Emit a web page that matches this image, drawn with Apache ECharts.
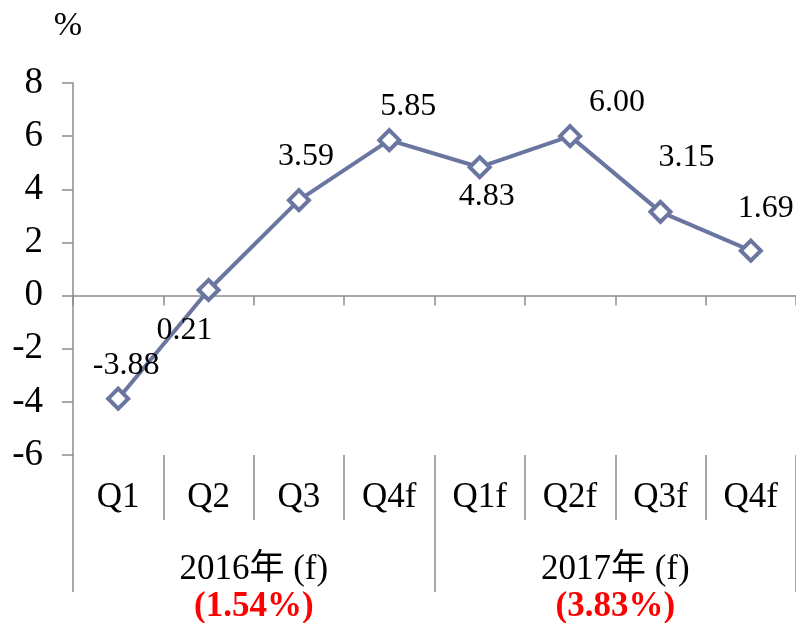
<!DOCTYPE html>
<html>
<head>
<meta charset="utf-8">
<script src="https://cdn.jsdelivr.net/npm/echarts@6/dist/echarts.min.js"></script>
<style>
  html, body { margin: 0; padding: 0; background: #fff; }
  #chart { width: 796px; height: 623px; }
</style>
</head>
<body>
<div id="chart"></div>
<script>
// Quarterly growth, 2016 (f) and 2017 (f)
const quarters = ['Q1', 'Q2', 'Q3', 'Q4f', 'Q1f', 'Q2f', 'Q3f', 'Q4f'];
const growth = [-3.88, 0.21, 3.59, 5.85, 4.83, 6.00, 3.15, 1.69];
const years = ['2016年 (f)', '2017年 (f)'];
const yearTotals = ['(1.54%)', '(3.83%)'];
const yTicks = { min: -6, max: 8, step: 2 };

// label offsets (dx, dy) from each point, roughly where Excel put them
const labelOffsets = [[8, -33], [-24, 41], [7, -44], [19, -34], [7, 29], [47, -34], [26, -54], [15, -42]];

const serif = "'Liberation Serif', 'Times New Roman', 'Noto Sans CJK TC', serif";
const axisGray = '#8c8c8c';
const lineColor = '#6a76a0';

const chart = echarts.init(document.getElementById('chart'));

const option = {
  animation: false,
  grid: { left: 73, right: 0, top: 83, bottom: 168, containLabel: false, outerBoundsMode: 'none' },
  xAxis: [
    {
      // main axis, sits on y = 0
      type: 'category',
      data: quarters,
      position: 'bottom',
      axisLine: { onZero: true, lineStyle: { color: axisGray, width: 1.5 } },
      axisTick: { show: true, length: 10, interval: 0, lineStyle: { color: axisGray, width: 1.5 } },
      axisLabel: { show: false },
      splitLine: { show: false }
    },
    {
      // quarter labels below the plot
      type: 'category',
      data: quarters,
      position: 'bottom',
      axisLine: { show: false, onZero: false },
      axisTick: { show: true, length: 65, interval: 0, lineStyle: { color: axisGray, width: 1.5 } },
      axisLabel: {
        interval: 0, margin: 25,
        fontFamily: serif, fontSize: 35, color: '#000'
      },
      splitLine: { show: false }
    },
    {
      // year labels with the yearly totals in red
      type: 'category',
      data: years.map((y, i) => y + '\n{r|' + yearTotals[i] + '}'),
      position: 'bottom',
      axisLine: { show: false, onZero: false },
      axisTick: { show: true, length: 137, interval: 0, lineStyle: { color: axisGray, width: 1.5 } },
      axisLabel: {
        interval: 0, margin: 96,
        fontFamily: serif, fontSize: 35, color: '#000', lineHeight: 37,
        rich: {
          r: { fontFamily: serif, fontSize: 35, fontWeight: 'bold', color: '#ff0000', lineHeight: 37 }
        }
      },
      splitLine: { show: false }
    }
  ],
  yAxis: {
    type: 'value',
    min: yTicks.min,
    max: yTicks.max,
    interval: yTicks.step,
    name: '%',
    nameLocation: 'end',
    nameGap: 40,
    nameTextStyle: { fontFamily: serif, fontSize: 34, color: '#000', align: 'center', padding: [0, 10, 0, 0] },
    axisLine: { show: true, lineStyle: { color: axisGray, width: 1.5 } },
    axisTick: { show: true, length: 11, lineStyle: { color: axisGray, width: 1.5 } },
    axisLabel: { margin: 30, fontFamily: serif, fontSize: 37, color: '#000' },
    splitLine: { show: false }
  },
  series: [
    {
      type: 'line',
      xAxisIndex: 0,
      data: growth.map((v, i) => ({
        value: v,
        label: { offset: labelOffsets[i] }
      })),
      lineStyle: { color: lineColor, width: 4 },
      symbol: 'diamond',
      symbolSize: 20,
      itemStyle: { color: '#fff', borderColor: lineColor, borderWidth: 4 },
      label: {
        show: true,
        position: 'inside',
        align: 'center',
        verticalAlign: 'middle',
        fontFamily: serif,
        fontSize: 32,
        color: '#000',
        formatter: p => p.value.toFixed(2)
      },
      z: 5
    }
  ]
};

chart.setOption(option);
</script>
</body>
</html>
